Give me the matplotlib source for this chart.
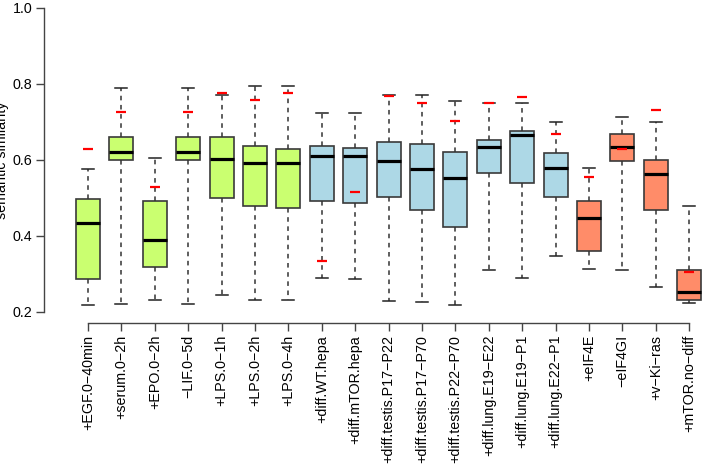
import matplotlib.pyplot as plt
import numpy as np

plt.rcParams['font.family'] = ['Liberation Sans', 'DejaVu Sans']

labels = ['+EGF.0\u221240min', '+serum.0\u22122h', '+EPO.0\u22122h', '\u2212LIF.0\u22125d',
          '+LPS.0\u22121h', '+LPS.0\u22122h', '+LPS.0\u22124h', '+diff.WT.hepa',
          '+diff.mTOR.hepa', '+diff.testis.P17\u2212P22', '+diff.testis.P17\u2212P70',
          '+diff.testis.P22\u2212P70', '+diff.lung.E19\u2212E22', '+diff.lung.E19\u2212P1',
          '+diff.lung.E22\u2212P1', '+eIF4E', '\u2212eIF4GI', '+v\u2212Ki\u2212ras',
          '+mTOR.no\u2212diff']

whislo = [0.217, 0.221, 0.230, 0.221, 0.243, 0.230, 0.230, 0.290, 0.287, 0.227,
          0.226, 0.217, 0.309, 0.289, 0.347, 0.312, 0.309, 0.266, 0.222]
q1 = [0.286, 0.600, 0.317, 0.600, 0.498, 0.477, 0.474, 0.492, 0.487, 0.502,
      0.468, 0.424, 0.564, 0.539, 0.502, 0.361, 0.596, 0.468, 0.230]
med = [0.434, 0.620, 0.388, 0.620, 0.603, 0.591, 0.592, 0.611, 0.609, 0.597,
       0.575, 0.551, 0.634, 0.666, 0.577, 0.447, 0.633, 0.563, 0.251]
q3 = [0.496, 0.661, 0.492, 0.661, 0.661, 0.636, 0.629, 0.636, 0.630, 0.647,
      0.642, 0.620, 0.651, 0.676, 0.618, 0.491, 0.668, 0.600, 0.309]
whishi = [0.576, 0.789, 0.604, 0.789, 0.769, 0.795, 0.795, 0.724, 0.724, 0.770,
          0.770, 0.754, 0.749, 0.748, 0.700, 0.579, 0.712, 0.700, 0.478]
# red reference marks
ref = [0.628, 0.726, 0.529, 0.726, 0.776, 0.758, 0.776, 0.334, 0.515, 0.768,
       0.750, 0.703, 0.749, 0.765, 0.668, 0.554, 0.628, 0.731, 0.304]
groups = ['g'] * 7 + ['b'] * 8 + ['o'] * 4
colors = {'g': '#CAFF70', 'b': '#ADD8E6', 'o': '#FF8C69'}

fig = plt.figure(figsize=(7.03, 4.70), dpi=100)
ax = fig.add_axes([44 / 703, 1 - 323 / 470, (703 - 44) / 703, 323 / 470])

stats = []
for i in range(len(labels)):
    stats.append({'whislo': whislo[i], 'q1': q1[i], 'med': med[i],
                  'q3': q3[i], 'whishi': whishi[i], 'fliers': []})

pos = np.arange(1, len(labels) + 1)
bp = ax.bxp(stats, positions=pos, widths=0.72, capwidths=0.36,
            patch_artist=True, showfliers=False,
            boxprops=dict(edgecolor='#3a3a3a', linewidth=1.2),
            medianprops=dict(color='black', linewidth=2.3),
            whiskerprops=dict(color='#333333', linewidth=1.1, linestyle=(0, (3, 3))),
            capprops=dict(color='#222222', linewidth=1.1))
for patch, g in zip(bp['boxes'], groups):
    patch.set_facecolor(colors[g])

ax.plot(pos, ref, linestyle='none', marker='_', markersize=7.5,
        markeredgewidth=1.6, color='red', zorder=5)

ax.set_xlim(1 - 44 / 33.4, 1 + (703 - 88) / 33.4)
ax.set_ylim(0.2 - 11.3 / 380, 0.2 + 311.7 / 380)

for s in ['top', 'right']:
    ax.spines[s].set_visible(False)
ax.spines['left'].set_bounds(0.2, 1.0)
ax.spines['bottom'].set_bounds(1, len(labels))
for s in ['left', 'bottom']:
    ax.spines[s].set_color('#444444')
    ax.spines[s].set_linewidth(1.0)

ax.set_yticks([0.2, 0.4, 0.6, 0.8, 1.0])
ax.set_yticklabels(['0.2', '0.4', '0.6', '0.8', '1.0'])
ax.set_xticks(pos)
ax.set_xticklabels(labels, rotation=90)
ax.tick_params(axis='both', length=6, width=1.0, color='#444444',
               labelsize=10.3, pad=2.5)

fig.text(9 / 703, 1 - 160 / 470, 'semantic similarity', rotation=90,
         ha='right', va='center', fontsize=10.3)

plt.savefig('out.png', dpi=100)
